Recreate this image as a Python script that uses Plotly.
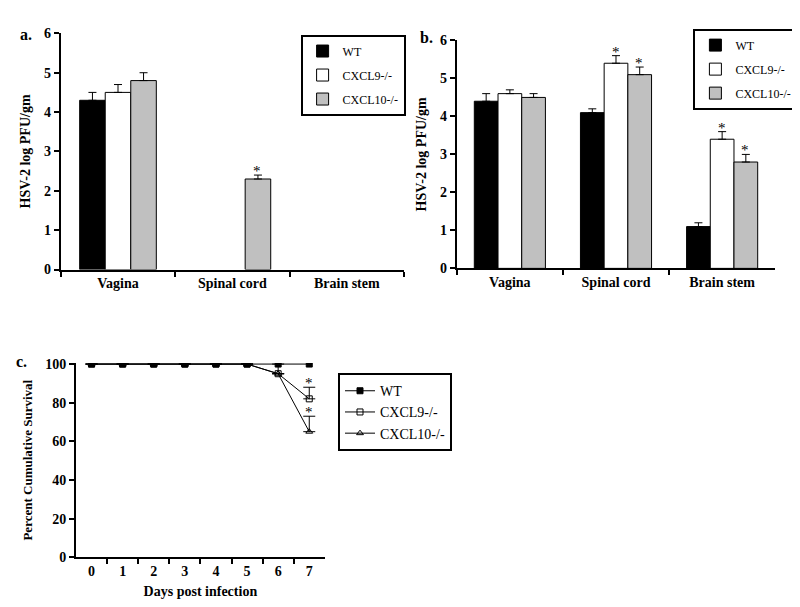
import plotly.graph_objects as go

# ---- data ----
tissues = ["Vagina", "Spinal cord", "Brain stem"]
groups = ["WT", "CXCL9-/-", "CXCL10-/-"]

a_wt = [4.3, None, None]
a_cx9 = [4.5, None, None]
a_cx10 = [4.8, 2.3, None]
a_wt_err = [0.2, None, None]
a_cx9_err = [0.2, None, None]
a_cx10_err = [0.2, 0.1, None]

b_wt = [4.4, 4.1, 1.1]
b_cx9 = [4.6, 5.4, 3.4]
b_cx10 = [4.5, 5.1, 2.8]
b_wt_err = [0.2, 0.1, 0.1]
b_cx9_err = [0.1, 0.2, 0.2]
b_cx10_err = [0.1, 0.2, 0.2]

days = [0, 1, 2, 3, 4, 5, 6, 7]
surv_wt = [100, 100, 100, 100, 100, 100, 100, 100]
surv_cx9 = [100, 100, 100, 100, 100, 100, 95, 82]
surv_cx10 = [100, 100, 100, 100, 100, 100, 95, 65]
surv_cx9_err = [0, 0, 0, 0, 0, 0, 5, 6]
surv_cx10_err = [0, 0, 0, 0, 0, 0, 0, 8]

fills = ["black", "white", "#c0c0c0"]
SERIF = "Liberation Serif"

fig = go.Figure()

def add_bars(vals_list, errs_list, xa, ya, leg):
    for i, (g, vals, errs) in enumerate(zip(groups, vals_list, errs_list)):
        fig.add_trace(go.Bar(
            x=tissues, y=vals, name=g, xaxis=xa, yaxis=ya, legend=leg,
            legendgroup=leg + g,
            marker=dict(color=fills[i], line=dict(color="black", width=1)),
            error_y=dict(type="data", array=errs, arrayminus=[0]*3, symmetric=False,
                         color="black", thickness=1, width=4),
        ))

add_bars([a_wt, a_cx9, a_cx10], [a_wt_err, a_cx9_err, a_cx10_err], "x", "y", "legend")
add_bars([b_wt, b_cx9, b_cx10], [b_wt_err, b_cx9_err, b_cx10_err], "x2", "y2", "legend2")

line_specs = [
    ("WT", surv_wt, None, "square", "black"),
    ("CXCL9-/-", surv_cx9, surv_cx9_err, "square-open", "black"),
    ("CXCL10-/-", surv_cx10, surv_cx10_err, "triangle-up-open", "black"),
]
for name, vals, errs, sym, col in line_specs:
    tr = dict(x=days, y=vals, name=name, mode="lines+markers", xaxis="x3", yaxis="y3",
              legend="legend3", legendgroup="c" + name,
              line=dict(color="black", width=1),
              marker=dict(symbol=sym, size=6, color="black",
                          line=dict(color="black", width=1)))
    if errs is not None:
        tr["error_y"] = dict(type="data", array=errs, arrayminus=[0]*len(errs), symmetric=False,
                             color="black", thickness=1, width=6)
    fig.add_trace(go.Scatter(**tr))

tickfont = dict(family=SERIF, size=14, color="black", weight="bold")
titlefont = dict(family=SERIF, size=14, color="black", weight="bold")
titlefont_c = dict(family=SERIF, size=13, color="black", weight="bold")
axline = dict(showline=True, linecolor="black", linewidth=2, ticks="outside", tickcolor="black",
              tickwidth=2, ticklen=5, showgrid=False, zeroline=False, tickfont=tickfont)

legbase = dict(xanchor="right", yanchor="top", bordercolor="black", borderwidth=2,
               bgcolor="white", itemwidth=30)

fig.update_layout(
    width=800, height=607, margin=dict(l=0, r=0, t=0, b=0),
    paper_bgcolor="white", plot_bgcolor="white",
    barmode="group", bargap=0.33, bargroupgap=0,
    showlegend=True,
    xaxis=dict(domain=[0.066, 0.495], anchor="y", tickson="boundaries", **axline),
    yaxis=dict(domain=[0.570, 0.969], anchor="x", range=[0, 6], dtick=1,
               title=dict(text="HSV-2 log PFU/gm", font=titlefont, standoff=10), **axline),
    xaxis2=dict(domain=[0.561, 0.959], anchor="y2", tickson="boundaries", **axline),
    yaxis2=dict(domain=[0.572, 0.957], anchor="x2", range=[0, 6], dtick=1,
                title=dict(text="HSV-2 log PFU/gm", font=titlefont, standoff=10), **axline),
    xaxis3=dict(domain=[0.085, 0.396], anchor="y3", range=[-0.5, 7.5],
                tickvals=days, showline=True, linecolor="black", linewidth=2, ticks="",
                showgrid=False, zeroline=False, tickfont=tickfont,
                minor=dict(tickvals=[d + 0.5 for d in days[:-1]], ticks="outside",
                           ticklen=5, tickwidth=2, tickcolor="black", showgrid=False),
                title=dict(text="Days post infection", font=titlefont, standoff=8)),
    yaxis3=dict(domain=[0.084, 0.412], anchor="x3", range=[0, 100.5], dtick=20,
                title=dict(text="Percent Cumulative Survival", font=titlefont_c, standoff=10), **axline),
    legend=dict(x=0.497, y=0.967, font=dict(family=SERIF, size=12, color="black"),
                tracegroupgap=5, **legbase),
    legend2=dict(x=0.988, y=0.977, font=dict(family=SERIF, size=12, color="black"),
                 tracegroupgap=5, **legbase),
    legend3=dict(x=0.4125, y=0.395, xanchor="left", yanchor="top",
                 bordercolor="black", borderwidth=2, bgcolor="white",
                 font=dict(family=SERIF, size=14, color="black"), tracegroupgap=0),
)

star_font = dict(family=SERIF, size=15, color="black")
anns = [
    dict(x="Spinal cord", y=a_cx10[1] + a_cx10_err[1], xref="x", yref="y", xshift=25),
    dict(x="Spinal cord", y=b_cx9[1] + b_cx9_err[1], xref="x2", yref="y2", xshift=0),
    dict(x="Spinal cord", y=b_cx10[1] + b_cx10_err[1], xref="x2", yref="y2", xshift=23),
    dict(x="Brain stem", y=b_cx9[2] + b_cx9_err[2], xref="x2", yref="y2", xshift=0),
    dict(x="Brain stem", y=b_cx10[2] + b_cx10_err[2], xref="x2", yref="y2", xshift=23),
    dict(x=7, y=surv_cx9[7] + surv_cx9_err[7], xref="x3", yref="y3", xshift=0),
    dict(x=7, y=surv_cx10[7] + surv_cx10_err[7], xref="x3", yref="y3", xshift=0),
]
for an in anns:
    fig.add_annotation(text="*", showarrow=False, yanchor="bottom", font=star_font, yshift=-6, **an)

lab_font = dict(family=SERIF, size=16, color="black", weight="bold")
for txt, x, y in [("a.", 0.012, 0.985), ("b.", 0.512, 0.98), ("c.", 0.008, 0.432)]:
    fig.add_annotation(text=txt, x=x, y=y, xref="paper", yref="paper", showarrow=False,
                       xanchor="left", yanchor="top", font=lab_font)

fig.write_html("out.html")
